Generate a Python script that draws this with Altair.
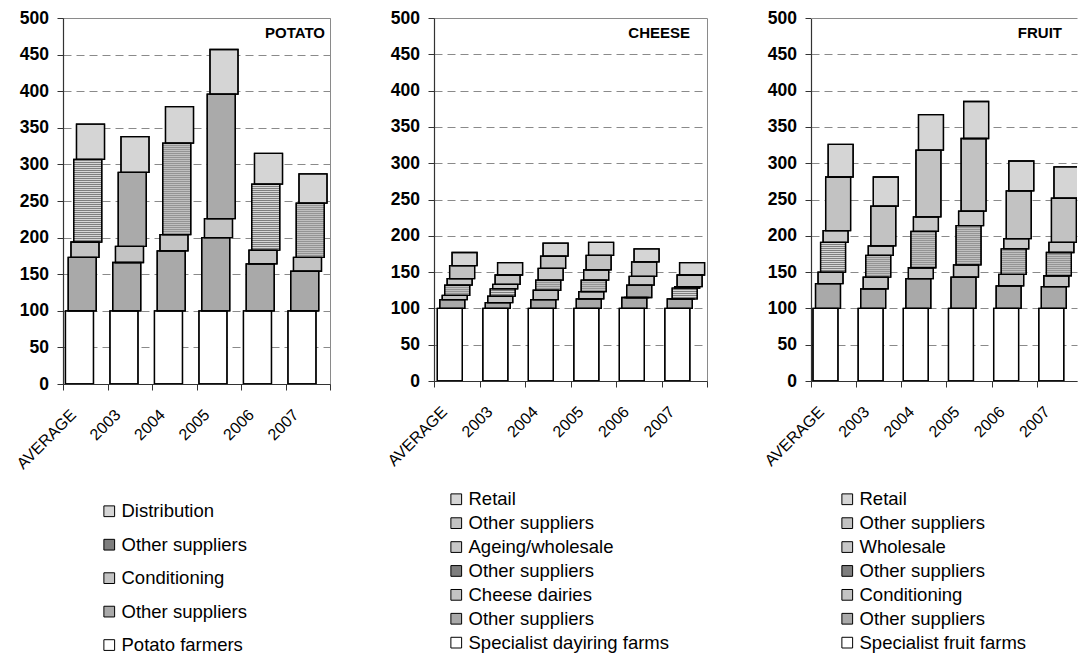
import json

import altair as alt
import pandas as pd

categories = ["AVERAGE", "2003", "2004", "2005", "2006", "2007"]

# Potato chain, index with potato farmers = 100 (segment increments per stage)
potato_stages = ["Potato farmers", "Other suppliers", "Conditioning", "Other suppliers", "Distribution"]
potato_farmers = [100, 100, 100, 100, 100, 100]
potato_other_1 = [73, 66, 82, 100, 64, 54]
potato_conditioning = [21, 22, 22, 26, 19, 19]
potato_other_2 = [113, 101, 125, 170, 90, 74]
potato_distribution = [48, 49, 50, 61, 42, 40]

# Cheese chain, index with dairy farms = 100
cheese_stages = ["Specialist dayiring farms", "Other suppliers", "Cheese dairies", "Other suppliers",
                 "Ageing/wholesale", "Other suppliers", "Retail"]
cheese_farms = [100, 100, 100, 100, 100, 100]
cheese_other_1 = [12, 8, 12, 13, 15, 13]
cheese_dairies = [6, 9, 13, 10, 0, 0]
cheese_other_2 = [14, 10, 14, 16, 17, 15]
cheese_ageing = [9, 6, 16, 14, 12, 2]
cheese_other_3 = [18, 13, 17, 20, 20, 16]
cheese_retail = [18, 17, 18, 18, 18, 17]

# Fruit chain, index with fruit farms = 100
fruit_stages = ["Specialist fruit farms", "Other suppliers", "Conditioning", "Other suppliers",
                "Wholesale", "Other suppliers", "Retail"]
fruit_farms = [100, 100, 100, 100, 100, 100]
fruit_other_1 = [34, 27, 41, 43, 31, 30]
fruit_conditioning = [16, 16, 15, 17, 16, 15]
fruit_other_2 = [41, 30, 50, 54, 35, 32]
fruit_wholesale = [16, 13, 20, 20, 14, 14]
fruit_other_3 = [74, 55, 92, 100, 66, 61]
fruit_retail = [45, 40, 49, 51, 41, 43]

# grey tones standing in for the hatch patterns
WHITE = "#ffffff"
DIAG_DARK = "#a9a9a9"
DIAG_BACK = "#c3c3c3"
HORIZ = "#7e7e7e"      # dark base, striped over with a light dashed rule
DIAG_FWD = "#c8c8c8"
DOTTED = "#c2c2c2"
WAVY = "#d5d5d5"

FONT = "Liberation Sans"
FRAME = "#8a8a8a"
AXIS_DARK = "#333333"
label_expr = "[" + ",".join(json.dumps(c) for c in categories) + ",''][datum.value]"


def panel(title, stages, series, tones, striped, width, height, offset, step, barw,
          title_x, legend_x, legend_y, row_pad, x_max=6.0, framed=True):
    keys = [f"{s}|{i}" for i, s in enumerate(stages)]
    rows = []
    for c, cat in enumerate(categories):
        base = 0
        for k, vals in enumerate(series):
            left = c + offset + k * step
            rows.append({"cat": cat, "key": keys[k], "k": k, "x0": left, "x1": left + barw,
                         "xm": left + barw / 2, "lo": base, "hi": base + vals[c]})
            base += vals[c]
    df = pd.DataFrame(rows)
    px_per_unit = width / x_max

    x_scale = alt.Scale(domain=[0, x_max], nice=False, zero=False)
    x_axis = alt.Axis(values=list(range(7)), labelExpr=label_expr,
                      labelOffset=10, labelAngle=315, labelAlign="right",
                      labelBaseline="middle", labelFontSize=16, labelPadding=22,
                      labelOverlap=False, labelBound=False, labelFlush=False,
                      tickSize=6, tickColor=AXIS_DARK, domainColor=AXIS_DARK,
                      domainWidth=1.2, grid=False, title=None, labelColor="black")
    y_scale = alt.Scale(domain=[0, 500], nice=False)
    y_axis = alt.Axis(values=list(range(0, 501, 50)), labelFontWeight="bold",
                      labelFontSize=17.5, labelColor="black", labelPadding=8.5,
                      labelOverlap=False, labelFlush=False,
                      tickSize=6, tickColor=AXIS_DARK, domainColor=AXIS_DARK,
                      domainWidth=1.2, gridDash=[8, 5], gridColor=FRAME,
                      gridWidth=1, title=None)

    def xq(field):
        return alt.X(f"{field}:Q", scale=x_scale, axis=x_axis)

    def yq(field):
        return alt.Y(f"{field}:Q", scale=y_scale, axis=y_axis)

    bars = alt.Chart(df).mark_bar(stroke="black", strokeWidth=1.3, clip=True).encode(
        x=xq("x0"), x2="x1:Q", y=yq("lo"), y2="hi:Q",
        fill=alt.Fill("key:N",
                      scale=alt.Scale(domain=keys[::-1], range=tones[::-1]),
                      legend=alt.Legend(orient="none", legendX=legend_x, legendY=legend_y,
                                        title=None, labelExpr="split(datum.label, '|')[0]",
                                        symbolType="square", symbolSize=115,
                                        symbolStrokeColor="black", symbolStrokeWidth=1,
                                        labelFontSize=18.5, labelFont=FONT, labelColor="black",
                                        labelOffset=3, labelLimit=0, rowPadding=row_pad,
                                        padding=0)),
        order=alt.Order("lo:Q"),
    )

    # horizontal stripes: a dashed vertical rule as wide as the bar
    stripes = alt.Chart(df).transform_filter(
        alt.FieldOneOfPredicate(field="k", oneOf=striped)
    ).mark_rule(color="#d6d6d6", strokeWidth=barw * px_per_unit - 1.4,
                strokeDash=[1, 1], strokeCap="butt", clip=True).encode(
        x=xq("xm"), y=yq("lo"), y2="hi:Q",
    )

    outlines = alt.Chart(df).mark_bar(stroke="black", strokeWidth=1.3, fillOpacity=0,
                                      clip=True).encode(
        x=xq("x0"), x2="x1:Q", y=yq("lo"), y2="hi:Q", order=alt.Order("lo:Q"),
    )

    name = alt.Chart(pd.DataFrame({"t": [title]})).mark_text(
        align="right", baseline="middle", fontWeight="bold", fontSize=15, font=FONT,
        color="black",
    ).encode(text="t:N", x=alt.value(title_x), y=alt.value(15))

    layers = [bars, stripes, outlines, name]
    props = {"width": width, "height": height}
    if not framed:
        # plot runs off the right edge: keep only the top border line
        top = alt.Chart(pd.DataFrame({"t": [0]})).mark_rule(color=FRAME, strokeWidth=1.2).encode(
            x=alt.value(0), x2=alt.value(width), y=alt.value(0.5))
        layers.insert(0, top)
        props["view"] = alt.ViewBackground(stroke="transparent")
    return alt.layer(*layers).properties(**props)


potato = panel("POTATO", potato_stages,
               [potato_farmers, potato_other_1, potato_conditioning, potato_other_2,
                potato_distribution],
               [WHITE, DIAG_DARK, DIAG_BACK, HORIZ, WAVY], [3],
               267, 366, 0.055, 0.062, 0.63, 262, 37, 484, 14.45)

cheese = panel("CHEESE", cheese_stages,
               [cheese_farms, cheese_other_1, cheese_dairies, cheese_other_2, cheese_ageing,
                cheese_other_3, cheese_retail],
               [WHITE, DIAG_DARK, DIAG_BACK, HORIZ, DIAG_FWD, DOTTED, WAVY], [3],
               273, 363, 0.073, 0.054, 0.55, 256, 13, 472, 4.9)

fruit = panel("FRUIT", fruit_stages,
              [fruit_farms, fruit_other_1, fruit_conditioning, fruit_other_2, fruit_wholesale,
               fruit_other_3, fruit_retail],
              [WHITE, DIAG_DARK, DIAG_BACK, HORIZ, DIAG_FWD, DOTTED, WAVY], [3],
              266, 363, 0.044, 0.056, 0.553, 251, 27, 472, 4.9, x_max=5.89, framed=False)

chart = alt.hconcat(potato, cheese, fruit, spacing=104, bounds="flush").resolve_scale(
    fill="independent", x="independent", y="independent"
).configure(font=FONT).configure_view(stroke=FRAME, strokeWidth=1).properties(
    padding={"left": 12, "top": 8, "right": 0, "bottom": 0}, background="white"
)

chart.save("out.html", embed_options={"renderer": "svg", "actions": False})
